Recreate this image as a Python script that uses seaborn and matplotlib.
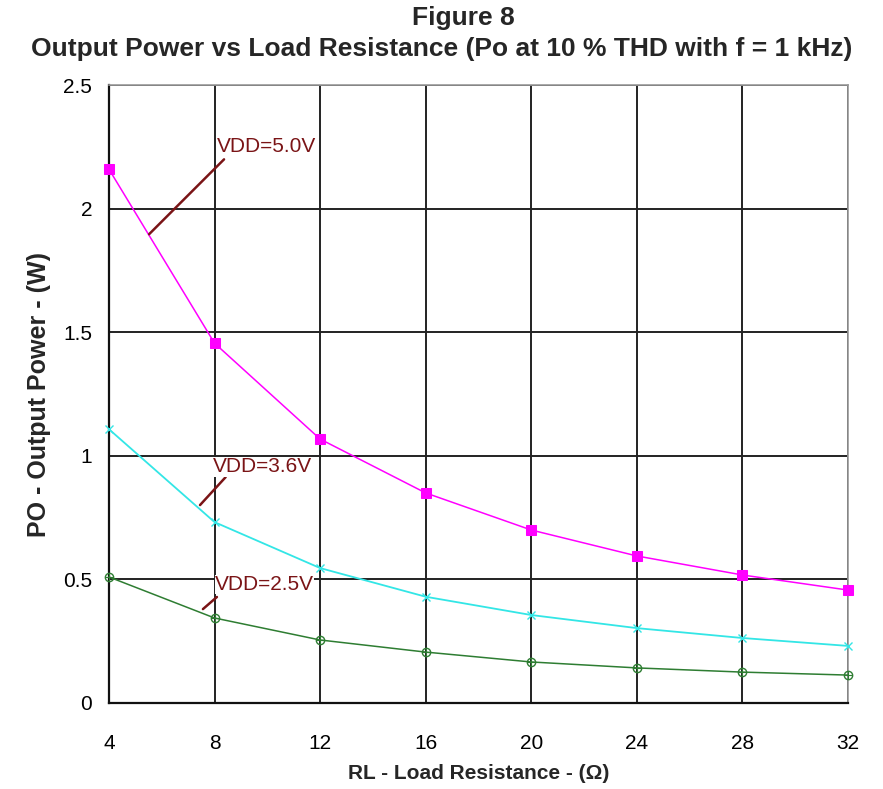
import matplotlib
matplotlib.use("Agg")
import matplotlib.pyplot as plt
import seaborn as sns
import pandas as pd

# Load resistance (ohms) and output power (W) at 10 % THD, f = 1 kHz
load_ohms = [4, 8, 12, 16, 20, 24, 28, 32]
po_5v0 = [2.16, 1.456, 1.068, 0.85, 0.70, 0.595, 0.518, 0.457]
po_3v6 = [1.108, 0.732, 0.546, 0.43, 0.356, 0.303, 0.263, 0.231]
po_2v5 = [0.51, 0.344, 0.255, 0.206, 0.166, 0.142, 0.125, 0.113]

x_ticks = [4, 8, 12, 16, 20, 24, 28, 32]
y_ticks = [0, 0.5, 1, 1.5, 2, 2.5]
y_tick_labels = ["0", "0.5", "1", "1.5", "2", "2.5"]

sns.set_theme(style="white")
plt.rcParams["font.family"] = ["Liberation Sans", "DejaVu Sans"]

fig = plt.figure(figsize=(8.83, 7.89), dpi=100)
ax = fig.add_axes([0.1234, 0.109, 0.837, 0.783])

df = pd.DataFrame({"R": load_ohms, "p5": po_5v0, "p36": po_3v6, "p25": po_2v5})

sns.lineplot(data=df, x="R", y="p5", ax=ax, color="#ff00ff", lw=1.1,
             marker="s", markersize=7, markeredgecolor="#ff00ff",
             zorder=5, clip_on=False)
sns.lineplot(data=df, x="R", y="p36", ax=ax, color="#33e6e6", lw=1.3,
             marker="x", markersize=6, markeredgewidth=1.0,
             markeredgecolor="#33e6e6", zorder=5, clip_on=False)
sns.lineplot(data=df, x="R", y="p25", ax=ax, color="#2e7d32", lw=1.1,
             marker="o", markersize=6, markerfacecolor="none",
             markeredgewidth=1.0, markeredgecolor="#2e7d32",
             zorder=5, clip_on=False)
sns.lineplot(data=df, x="R", y="p25", ax=ax, color="#2e7d32", lw=0,
             marker="+", markersize=6, markeredgewidth=0.8,
             markeredgecolor="#2e7d32", zorder=5, clip_on=False)

ax.set_xlim(4, 32)
ax.set_ylim(0, 2.5)
ax.set_xticks(x_ticks)
ax.set_yticks(y_ticks)
ax.set_yticklabels(y_tick_labels)
ax.grid(True, color="#222222", lw=1.4)
ax.set_axisbelow(True)
ax.tick_params(axis="x", length=0, pad=22, labelsize=15, colors="black")
ax.tick_params(axis="y", length=0, pad=12, labelsize=15, colors="black")

for side in ("left", "bottom"):
    ax.spines[side].set_color("#111111")
    ax.spines[side].set_linewidth(1.6)
for side in ("top", "right"):
    ax.spines[side].set_color("#999999")
    ax.spines[side].set_linewidth(1.2)

ax.set_xlabel("RL - Load Resistance - (Ω)", fontsize=15, fontweight="bold",
              labelpad=8)
ax.set_ylabel("PO - Output Power - (W)", fontsize=18, fontweight="bold",
              labelpad=9)

# Supply-voltage callouts with leader lines
label_color = "#7a1416"
callouts = [
    ("VDD=5.0V", (5.52, 1.897), (8.36, 2.20), (8.09, 2.229)),
    ("VDD=3.6V", (7.45, 0.801), (8.42, 0.914), (7.94, 0.934)),
    ("VDD=2.5V", (7.56, 0.380), (8.09, 0.429), (8.02, 0.457)),
]
for text, p0, p1, tpos in callouts:
    ax.plot([p0[0], p1[0]], [p0[1], p1[1]], color=label_color, lw=1.8,
            zorder=6)
    ax.text(tpos[0], tpos[1], text, color=label_color, fontsize=15,
            va="baseline", ha="left", zorder=7,
            bbox=dict(facecolor="white", edgecolor="none", pad=0.3))

fig.text(0.525, 0.977, "Figure 8", ha="center", va="center",
         fontsize=19, fontweight="bold")
fig.text(0.5, 0.938,
         "Output Power vs Load Resistance (Po at 10 % THD with f = 1 kHz)",
         ha="center", va="center", fontsize=19, fontweight="bold")

fig.savefig("out.png", dpi=100)
